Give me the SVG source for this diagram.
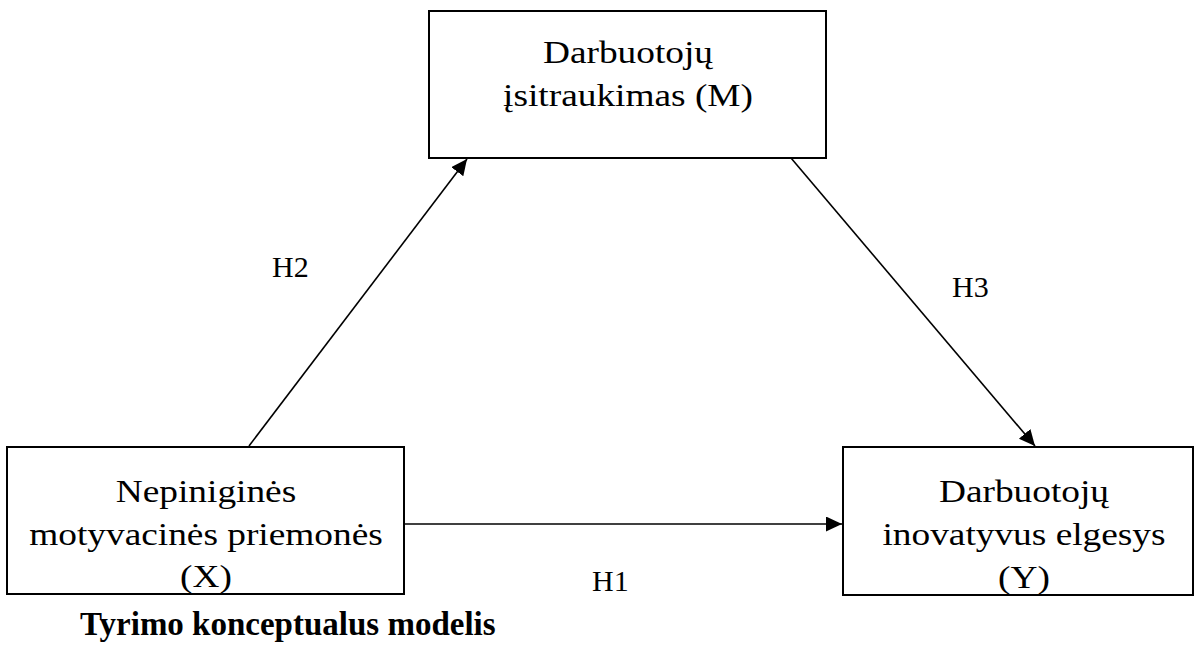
<svg xmlns="http://www.w3.org/2000/svg" width="1195" height="645" viewBox="0 0 1195 645">
<style>
  .box { fill: #ffffff; stroke: #000000; stroke-width: 2; }
  .conn { stroke: #000000; stroke-width: 1.6; fill: none; }
  .nt { font-family: "Liberation Serif", "Times New Roman", serif; font-size: 32px; fill: #000000; text-anchor: middle; }
  .lbl { font-family: "Liberation Serif", "Times New Roman", serif; font-size: 30px; fill: #000000; }
  .cap { font-family: "Liberation Serif", "Times New Roman", serif; font-size: 33px; font-weight: bold; fill: #000000; }
</style>
<defs>
  <marker id="arrow" markerUnits="userSpaceOnUse" markerWidth="18" markerHeight="16" refX="16" refY="7.5" orient="auto">
    <path d="M0,0 L16,7.5 L0,15 Z" fill="#000000"/>
  </marker>
</defs>
<rect width="1195" height="645" fill="#ffffff"/>

<g id="connectors">
  <line class="conn" x1="249" y1="446" x2="467" y2="159" marker-end="url(#arrow)"/>
  <line class="conn" x1="791" y1="158" x2="1035" y2="446" marker-end="url(#arrow)"/>
  <line class="conn" x1="404" y1="524" x2="842" y2="524" marker-end="url(#arrow)"/>
</g>

<g id="node-M">
  <rect class="box" x="429" y="11" width="397" height="147"/>
  <g transform="translate(628 0) scale(1.167 1)">
    <text class="nt" x="0" y="63">Darbuotojų</text>
    <text class="nt" x="0" y="106">įsitraukimas (M)</text>
  </g>
</g>

<g id="node-X">
  <rect class="box" x="7" y="447" width="397" height="147"/>
  <g transform="translate(206 0) scale(1.167 1)">
    <text class="nt" x="0" y="502">Nepiniginės</text>
    <text class="nt" x="0" y="545">motyvacinės priemonės</text>
    <text class="nt" x="0" y="587">(X)</text>
  </g>
</g>

<g id="node-Y">
  <rect class="box" x="843" y="447" width="350" height="148"/>
  <g transform="translate(1024 0) scale(1.167 1)">
    <text class="nt" x="0" y="502">Darbuotojų</text>
    <text class="nt" x="0" y="545">inovatyvus elgesys</text>
    <text class="nt" x="0" y="588">(Y)</text>
  </g>
</g>

<g id="labels">
  <text class="lbl" x="272" y="277">H2</text>
  <text class="lbl" x="952" y="297">H3</text>
  <text class="lbl" x="592" y="591">H1</text>
</g>

<g id="caption">
  <text class="cap" x="80" y="635">Tyrimo konceptualus modelis</text>
</g>
</svg>
